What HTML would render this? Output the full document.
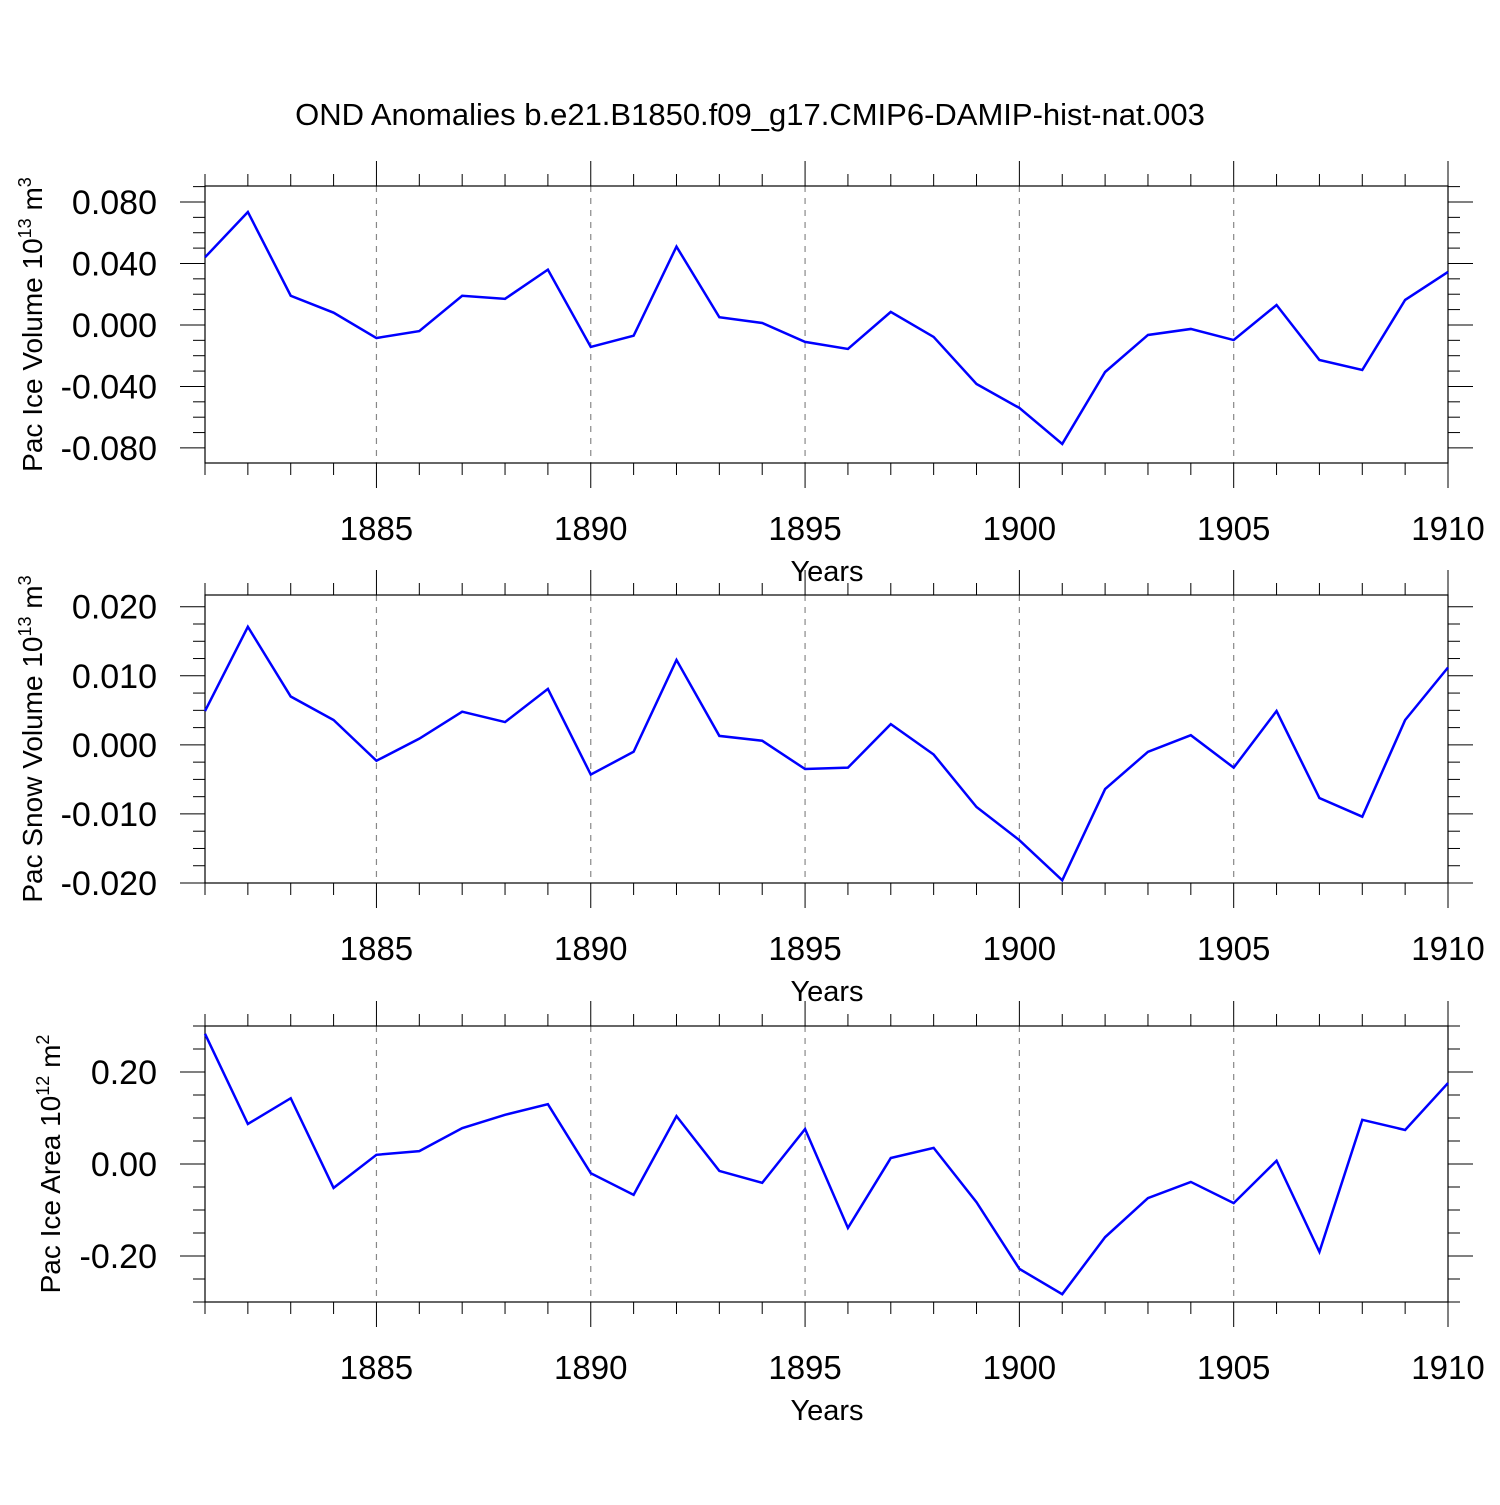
<!DOCTYPE html>
<html><head><meta charset="utf-8"><style>
body{margin:0;background:#fff}
svg text{font-family:"Liberation Sans",sans-serif;fill:#000}
</style></head><body>
<svg id="c" width="1500" height="1500" xmlns="http://www.w3.org/2000/svg">
<text x="750" y="125" font-size="31" text-anchor="middle">OND Anomalies b.e21.B1850.f09_g17.CMIP6-DAMIP-hist-nat.003</text>
</svg>
<script>
const years=[1881,1882,1883,1884,1885,1886,1887,1888,1889,1890,1891,1892,1893,1894,1895,1896,1897,1898,1899,1900,1901,1902,1903,1904,1905,1906,1907,1908,1909,1910];
const iceVolume=[0.044,0.0735,0.019,0.008,-0.0085,-0.004,0.019,0.017,0.036,-0.0143,-0.007,0.051,0.005,0.0013,-0.011,-0.0156,0.0085,-0.0078,-0.0384,-0.054,-0.0774,-0.0306,-0.0065,-0.0026,-0.0098,0.013,-0.0228,-0.0293,0.0163,0.0345];
const snowVolume=[0.0049,0.0171,0.007,0.0036,-0.0023,0.0009,0.0048,0.0033,0.0081,-0.0043,-0.001,0.0123,0.0013,0.0006,-0.0035,-0.0033,0.003,-0.0014,-0.009,-0.0138,-0.0196,-0.0064,-0.001,0.0014,-0.0033,0.0049,-0.0077,-0.0104,0.0036,0.0112];
const iceArea=[0.283,0.087,0.143,-0.052,0.02,0.028,0.078,0.107,0.13,-0.02,-0.067,0.104,-0.015,-0.041,0.076,-0.139,0.013,0.035,-0.083,-0.228,-0.283,-0.159,-0.074,-0.039,-0.085,0.007,-0.191,0.096,0.074,0.176];
const xTicks=[1885,1890,1895,1900,1905,1910];
const yTicks1=[0.08,0.04,0,-0.04,-0.08], yLabels1=["0.080","0.040","0.000","-0.040","-0.080"];
const yTicks2=[0.02,0.01,0,-0.01,-0.02], yLabels2=["0.020","0.010","0.000","-0.010","-0.020"];
const yTicks3=[0.2,0,-0.2], yLabels3=["0.20","0.00","-0.20"];
const NS="http://www.w3.org/2000/svg", svg=document.getElementById('c');
function mk(t,a,p){const e=document.createElementNS(NS,t);for(const k in a)e.setAttribute(k,a[k]);(p||svg).appendChild(e);return e;}
const L=205,R=1448;
const X=v=>L+(v-1881)*(R-L)/29;
function panel(name,top,bot,ymax,ymin,data,yt,yl,minor,title,sup,unit,titleX){
  const g=mk('g',{});
  
  
  const Y=v=>top+(ymax-v)*(bot-top)/(ymax-ymin);
  for(const yr of xTicks){ if(yr<1910){const d=mk('line',{x1:X(yr),x2:X(yr),y1:top,y2:bot,stroke:'#888','stroke-width':1.2,'stroke-dasharray':'6,6'},g);
    
    }}
  mk('rect',{x:L,y:top,width:R-L,height:bot-top,fill:'none',stroke:'#000','stroke-width':1.2},g);
  for(let yr=1881;yr<=1910;yr++){const M=yr%5===0,len=M?25:12;
    mk('line',{x1:X(yr),x2:X(yr),y1:top,y2:top-len,stroke:'#000','stroke-width':1},g);
    mk('line',{x1:X(yr),x2:X(yr),y1:bot,y2:bot+len,stroke:'#000','stroke-width':1},g);}
  for(let v=Math.ceil(ymin/minor-1e-6)*minor;v<=ymax+1e-9;v+=minor){
    const M=yt.some(t=>Math.abs(t-v)<minor/10),len=M?25:12,y=Y(v);
    mk('line',{x1:L,x2:L-len,y1:y,y2:y,stroke:'#000','stroke-width':1},g);
    mk('line',{x1:R,x2:R+len,y1:y,y2:y,stroke:'#000','stroke-width':1},g);}
  yt.forEach((v,i)=>{const t=mk('text',{x:157,y:Y(v)+12,'font-size':34,'text-anchor':'end'},g);t.textContent=yl[i];
    
    });
  xTicks.forEach(v=>{const t=mk('text',{x:X(v),y:bot+77,'font-size':33,'text-anchor':'middle'},g);t.textContent=v;
    
    });
  const xt=mk('text',{x:827,y:bot+118,'font-size':29,'text-anchor':'middle'},g);xt.textContent='Years';
  
  
  const cy=(top+bot)/2;
  const yt2=mk('text',{x:0,y:0,'font-size':28,'text-anchor':'middle',transform:`translate(${titleX},${cy}) rotate(-90)`},g);
  yt2.innerHTML=title+' 10<tspan font-size="18" dy="-11">'+sup+'</tspan><tspan dy="11"> m</tspan><tspan font-size="18" dy="-11">'+unit+'</tspan>';
  
  
  const pts=data.map((v,i)=>X(years[i])+','+Y(v)).join(' ');
  const pl=mk('polyline',{points:pts,fill:'none',stroke:'#0000ff','stroke-width':2.5,'stroke-linejoin':'miter'},g);
  
  
}
panel('ice-volume-panel',186,463,0.0904,-0.0898,iceVolume,yTicks1,yLabels1,0.01,'Pac Ice Volume','13','3',42);
panel('snow-volume-panel',595,883,0.0217,-0.02,snowVolume,yTicks2,yLabels2,0.0025,'Pac Snow Volume','13','3',42);
panel('ice-area-panel',1026,1302,0.3,-0.3,iceArea,yTicks3,yLabels3,0.05,'Pac Ice Area','12','2',60);
</script>
</body></html>
